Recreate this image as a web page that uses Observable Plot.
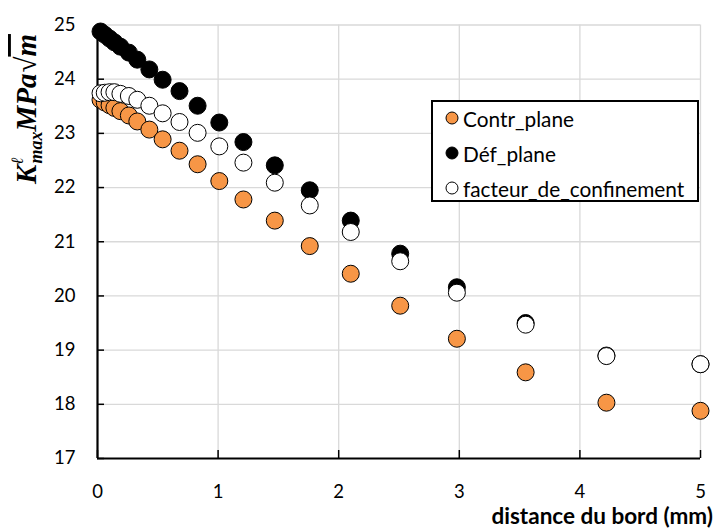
<!DOCTYPE html>
<html>
<head>
<meta charset="utf-8">
<script src="https://cdn.jsdelivr.net/npm/d3@7"></script>
<script src="https://cdn.jsdelivr.net/npm/@observablehq/plot@0.6"></script>
<style>
  html, body { margin: 0; padding: 0; background: #fff; }
  #wrap { position: relative; width: 716px; height: 531px; font-family: Lato, "Open Sans", sans-serif; }
  #legend { position: absolute; left: 431px; top: 100px; width: 264px; height: 98px; border: 2px solid #000; background: #fff; }
  .item { position: absolute; left: 12px; height: 24px; display: flex; align-items: center; font-size: 20.8px; color: #000; white-space: nowrap; }
  .item svg { margin-right: 4px; }
</style>
</head>
<body>
<div id="wrap"></div>
<script>
const distance   = [0.025, 0.06, 0.10, 0.14, 0.19, 0.26, 0.33, 0.43, 0.54, 0.68, 0.83, 1.01, 1.21, 1.47, 1.76, 2.10, 2.51, 2.98, 3.55, 4.22, 5.00];
const contrPlane = [23.62, 23.57, 23.52, 23.47, 23.41, 23.33, 23.22, 23.07, 22.89, 22.68, 22.43, 22.12, 21.78, 21.39, 20.92, 20.41, 19.82, 19.21, 18.59, 18.03, 17.88];
const defPlane   = [24.88, 24.82, 24.75, 24.68, 24.60, 24.49, 24.36, 24.18, 23.99, 23.78, 23.51, 23.20, 22.84, 22.41, 21.95, 21.39, 20.78, 20.16, 19.50, 18.90, 18.74];
const facteur    = [23.74, 23.75, 23.76, 23.76, 23.73, 23.69, 23.62, 23.51, 23.37, 23.21, 23.01, 22.76, 22.46, 22.09, 21.67, 21.18, 20.64, 20.06, 19.47, 18.89, 18.74];
const seriesNames = ["Contr_plane", "Déf_plane", "facteur_de_confinement"];
const seriesFill  = ["#F79646", "#000000", "#ffffff"];
const xTicks = [0, 1, 2, 3, 4, 5];
const yTicks = [17, 18, 19, 20, 21, 22, 23, 24, 25];
const xTitle = "distance du bord (mm)";

const rows = [];
[contrPlane, defPlane, facteur].forEach((vals, s) => {
  vals.forEach((v, i) => rows.push({series: seriesNames[s], x: distance[i], y: v}));
});

const fmt = d3.format("d");
const chart = Plot.plot({
  width: 716,
  height: 531,
  marginLeft: 97,
  marginRight: 16,
  marginTop: 24.5,
  marginBottom: 73,
  style: {fontFamily: "Lato, 'Open Sans', sans-serif", fontSize: "18.5px", color: "#000", background: "#fff"},
  x: {domain: [0, 5], ticks: xTicks, label: null},
  y: {domain: [17, 25], ticks: yTicks, label: null},
  color: {domain: seriesNames, range: seriesFill},
  marks: [
    Plot.gridX(xTicks.filter(d => d > 0), {stroke: "#d9d9d9", strokeOpacity: 1, strokeWidth: 1.3}),
    Plot.gridY(yTicks.filter(d => d > 17), {stroke: "#d9d9d9", strokeOpacity: 1, strokeWidth: 1.3}),
    Plot.axisY(yTicks, {tickSize: -7, text: null, label: null, strokeWidth: 1.5}),
    Plot.axisX(xTicks, {tickSize: -8, text: null, label: null, strokeWidth: 1.5}),
    Plot.axisY(yTicks, {tickSize: 0, tickPadding: 22, label: null, tickFormat: fmt}),
    Plot.axisX(xTicks, {tickSize: 0, tickPadding: 26, label: null, tickFormat: fmt}),
    Plot.ruleX([0], {stroke: "#000", strokeWidth: 2.2}),
    Plot.ruleY([17], {stroke: "#000", strokeWidth: 2.2}),
    Plot.dot(rows, {x: "x", y: "y", fill: "series", r: 8.5, stroke: "#000", strokeWidth: 1})
  ]
});

const wrap = document.getElementById("wrap");
wrap.appendChild(chart);

const svg = d3.select(chart);
// x-axis title
svg.append("text")
  .attr("x", 713).attr("y", 524)
  .attr("text-anchor", "end")
  .attr("font-family", "Lato, 'Open Sans', sans-serif")
  .attr("font-weight", "bold")
  .attr("font-size", 22.5)
  .attr("fill", "#000")
  .text(xTitle);

// y-axis title (math)
const t = svg.append("text")
  .attr("transform", "translate(36,109) rotate(-90)")
  .attr("text-anchor", "middle")
  .attr("font-family", "'Liberation Serif', 'DejaVu Serif', serif")
  .attr("font-style", "italic")
  .attr("font-weight", "bold")
  .attr("font-size", 29)
  .attr("fill", "#000");
t.append("tspan").text("K");
t.append("tspan").attr("font-size", 17).attr("font-weight", "normal").attr("dy", -13).text("ℓ");
t.append("tspan").attr("font-size", 18).attr("dx", -6).attr("dy", 19).text("max");
t.append("tspan").attr("dy", -6).text("MPa");
t.append("tspan").attr("font-style", "normal").attr("font-weight", "normal").attr("dx", 1).text("√");
t.append("tspan").style("text-decoration", "overline").text("m");

// legend
const legend = document.createElement("div");
legend.id = "legend";
const tops = [4, 39, 74];
seriesNames.forEach((name, i) => {
  const it = document.createElement("div");
  it.className = "item";
  it.style.top = tops[i] + "px";
  it.innerHTML = `<svg width="14" height="14"><circle cx="7" cy="7" r="6" fill="${seriesFill[i]}" stroke="#000" stroke-width="1"/></svg>`;
  const sp = document.createElement("span");
  sp.textContent = name;
  it.appendChild(sp);
  legend.appendChild(it);
});
wrap.appendChild(legend);
</script>
</body>
</html>
